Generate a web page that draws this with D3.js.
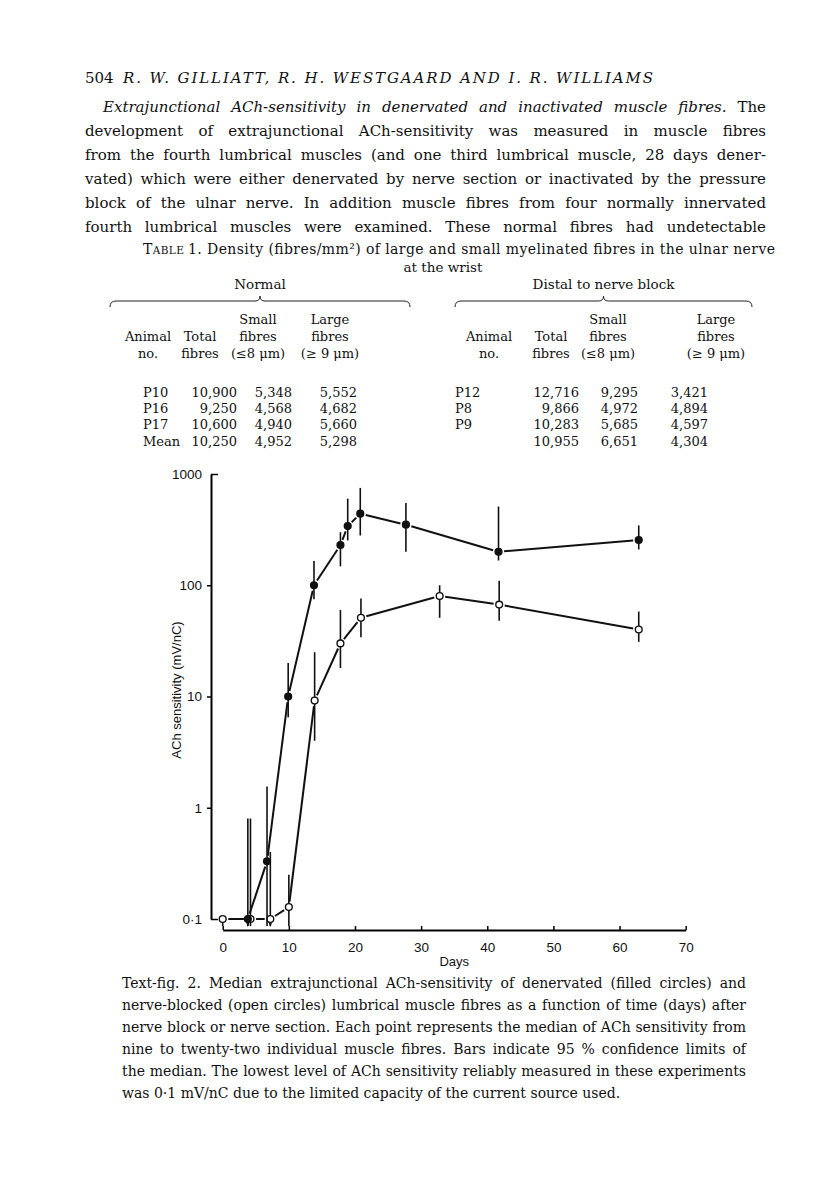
<!DOCTYPE html>
<html>
<head>
<meta charset="utf-8">
<script src="https://cdn.jsdelivr.net/npm/d3@7"></script>
<style>
  body { margin: 0; background: #fff; }
  svg { display: block; }
</style>
</head>
<body>
<div id="page"></div>
<script>
// ---- text of the page ----
var headerPage = "504";
var headerAuthors = "R. W. GILLIATT, R. H. WESTGAARD AND I. R. WILLIAMS";
var bodyLines = [
  "development of extrajunctional ACh-sensitivity was measured in muscle fibres",
  "from the fourth lumbrical muscles (and one third lumbrical muscle, 28 days dener-",
  "vated) which were either denervated by nerve section or inactivated by the pressure",
  "block of the ulnar nerve. In addition muscle fibres from four normally innervated",
  "fourth lumbrical muscles were examined. These normal fibres had undetectable"
];
var bodyFirstItalic = "Extrajunctional ACh-sensitivity in denervated and inactivated muscle fibres.";
var bodyFirstRest = "The";

var tableTitle = "1. Density (fibres/mm²) of large and small myelinated fibres in the ulnar nerve";
var tableTitle2 = "at the wrist";
var groupNames = ["Normal", "Distal to nerve block"];
var colHead1 = ["", "", "Small", "Large"];
var colHead2 = ["Animal", "Total", "fibres", "fibres"];
var colHead3 = ["no.", "fibres", "(≤8 μm)", "(≥ 9 μm)"];
var normalRows = [
  ["P10", "10,900", "5,348", "5,552"],
  ["P16", "9,250", "4,568", "4,682"],
  ["P17", "10,600", "4,940", "5,660"],
  ["Mean", "10,250", "4,952", "5,298"]
];
var blockRows = [
  ["P12", "12,716", "9,295", "3,421"],
  ["P8", "9,866", "4,972", "4,894"],
  ["P9", "10,283", "5,685", "4,597"],
  ["", "10,955", "6,651", "4,304"]
];

var captionLines = [
  "Text-fig. 2. Median extrajunctional ACh-sensitivity of denervated (filled circles) and",
  "nerve-blocked (open circles) lumbrical muscle fibres as a function of time (days) after",
  "nerve block or nerve section. Each point represents the median of ACh sensitivity from",
  "nine to twenty-two individual muscle fibres. Bars indicate 95 % confidence limits of",
  "the median. The lowest level of ACh sensitivity reliably measured in these experiments",
  "was 0·1 mV/nC due to the limited capacity of the current source used."
];

// ---- chart data ----
var xTicks = [0, 10, 20, 30, 40, 50, 60, 70];
var yTicks = [0.1, 1, 10, 100, 1000];

// denervated (filled circles)
var filledDays   = [3.8, 6.7, 9.9, 13.8, 17.8, 18.9, 20.8, 27.7, 41.7, 62.9];
var filledMedian = [0.1, 0.33, 10, 100, 230, 340, 440, 350, 200, 255];
var filledHigh   = [0.8, 1.55, 20, 165, 300, 600, 750, 550, 510, 345];
var filledLow    = [0.08, 0.08, 6.5, 75, 148, 253, 280, 200, 167, 210];
var filledArrow  = [true, false, false, false, false, false, false, false, false, false];

// nerve-blocked (open circles)
var openDays   = [0, 4.2, 7.2, 10, 13.9, 17.8, 20.9, 32.8, 41.8, 62.9];
var openMedian = [0.1, 0.1, 0.1, 0.128, 9.2, 30, 51, 80, 67, 40];
var openHigh   = [0.1, 0.8, 0.4, 0.25, 25, 60, 76, 100, 110, 58];
var openLow    = [0.08, 0.08, 0.08, 0.08, 4, 18, 34, 51, 48, 31];
var openArrow  = [false, false, true, false, false, false, false, false, false, false];

var W = 816, H = 1183;
var serif = "DejaVu Serif";
var sans = "Liberation Sans";

var svg = d3.select("#page").append("svg")
  .attr("width", W)
  .attr("height", H);

svg.append("rect").attr("width", W).attr("height", H).attr("fill", "#fff");

// justify a line of words between x0 and x1
function justify(g, words, x0, x1, y, size) {
  var nodes = words.map(function(d) {
    return g.append("text")
      .attr("y", y)
      .attr("font-family", serif)
      .attr("font-size", size)
      .attr("font-style", d.it ? "italic" : "normal")
      .text(d.w);
  });
  var widths = nodes.map(function(n) { return n.node().getComputedTextLength(); });
  var gap = words.length > 1 ? (x1 - x0 - d3.sum(widths)) / (words.length - 1) : 0;
  var x = x0;
  nodes.forEach(function(n, i) {
    n.attr("x", x);
    x += widths[i] + gap;
  });
}
function plain(t) {
  return t.split(" ").map(function(w) { return {w: w, it: false}; });
}

/* header */
var head = svg.append("g").attr("fill", "#111");
head.append("text")
  .attr("x", 85).attr("y", 83)
  .attr("font-family", serif).attr("font-size", 15)
  .text(headerPage);
head.append("text")
  .attr("x", 123).attr("y", 83)
  .attr("font-family", serif).attr("font-size", 15)
  .attr("font-style", "italic")
  .attr("textLength", 530).attr("lengthAdjust", "spacing")
  .text(headerAuthors);

/* body paragraph */
var body = svg.append("g").attr("fill", "#111");
var bodySize = 15;
var firstWords = bodyFirstItalic.split(" ").map(function(w) { return {w: w, it: true}; });
firstWords.push({w: bodyFirstRest, it: false});
justify(body, firstWords, 103, 766, 112, bodySize);
bodyLines.forEach(function(t, i) {
  justify(body, plain(t), 85, 766, 112 + 24 * (i + 1), bodySize);
});

/* table */
var tab = svg.append("g").attr("fill", "#111").attr("font-family", serif);
var tt = tab.append("text").attr("x", 143).attr("y", 254).attr("font-size", 14)
  .attr("textLength", 632).attr("lengthAdjust", "spacing");
tt.append("tspan").text("T");
tt.append("tspan").attr("font-size", 10.5).text("ABLE ");
tt.append("tspan").text(tableTitle);
tab.append("text").attr("x", 443).attr("y", 272).attr("font-size", 13.5)
  .attr("text-anchor", "middle").text(tableTitle2);

var groups = [
  {name: groupNames[0], x0: 110, x1: 410, rows: normalRows,
   cols: [148, 200, 258, 330], right: [null, 237, 292, 357], left: 143},
  {name: groupNames[1], x0: 455, x1: 752, rows: blockRows,
   cols: [489, 551, 608, 716], right: [null, 579, 638, 708], left: 455}
];

function bracePath(x0, x1, y) {
  var m = (x0 + x1) / 2;
  var p = d3.path();
  p.moveTo(x0, y + 6);
  p.quadraticCurveTo(x0, y, x0 + 6, y);
  p.lineTo(m - 5, y);
  p.quadraticCurveTo(m, y, m, y - 5);
  p.quadraticCurveTo(m, y, m + 5, y);
  p.lineTo(x1 - 6, y);
  p.quadraticCurveTo(x1, y, x1, y + 6);
  return p.toString();
}

groups.forEach(function(gr) {
  tab.append("text").attr("x", (gr.x0 + gr.x1) / 2).attr("y", 289)
    .attr("font-size", 13.5).attr("text-anchor", "middle").text(gr.name);
  tab.append("path").attr("d", bracePath(gr.x0, gr.x1, 301))
    .attr("fill", "none").attr("stroke", "#222").attr("stroke-width", 1);
  [colHead1, colHead2, colHead3].forEach(function(hrow, j) {
    hrow.forEach(function(h, k) {
      if (!h) return;
      tab.append("text").attr("x", gr.cols[k]).attr("y", 324 + j * 17)
        .attr("font-size", 13).attr("text-anchor", "middle").text(h);
    });
  });
  gr.rows.forEach(function(r, i) {
    var y = 397 + i * 16 + (i === 3 ? 1 : 0);
    r.forEach(function(v, k) {
      if (!v) return;
      var t = tab.append("text").attr("y", y).attr("font-size", 13).text(v);
      if (k === 0) t.attr("x", gr.left);
      else t.attr("x", gr.right[k]).attr("text-anchor", "end");
    });
  });
});

/* chart */
var x = d3.scaleLinear().domain([0, 70]).range([222.7, 685.7]);
var y = d3.scaleLog().domain([0.1, 1000]).range([919, 474]);
var yFloor = 926;

var chart = svg.append("g");

var yAxis = d3.axisLeft(y)
  .tickValues(yTicks)
  .tickFormat(function(d) { return d < 1 ? "0·1" : d3.format("d")(d); })
  .tickSizeInner(4).tickSizeOuter(0).tickPadding(5);

var yg = chart.append("g")
  .attr("transform", "translate(211,0)")
  .call(yAxis);
yg.select(".domain").attr("stroke-width", 2);
yg.selectAll(".tick line").attr("stroke-width", 1.5)
  .filter(function(d) { return d === 0.1 || d === 1000; })
  .attr("x2", 7);
yg.selectAll(".tick text")
  .attr("font-family", sans).attr("font-size", 13.5).attr("fill", "#111");

var xAxis = d3.axisBottom(x)
  .tickValues(xTicks)
  .tickSizeInner(-4).tickSizeOuter(0).tickPadding(12);
var xg = chart.append("g")
  .attr("transform", "translate(0,930)")
  .call(xAxis);
xg.select(".domain").attr("stroke-width", 2.2);
xg.selectAll(".tick line").attr("stroke-width", 1.5);
xg.selectAll(".tick text")
  .attr("font-family", sans).attr("font-size", 13.5).attr("fill", "#111");

chart.append("text")
  .attr("x", x(35)).attr("y", 966)
  .attr("text-anchor", "middle")
  .attr("font-family", sans).attr("font-size", 13).attr("fill", "#111")
  .text("Days");

chart.append("text")
  .attr("transform", "translate(181,690) rotate(-90)")
  .attr("text-anchor", "middle")
  .attr("font-family", sans).attr("font-size", 13).attr("fill", "#111")
  .text("ACh sensitivity (mV/nC)");

var r = 3.4;

function drawSeries(days, med, hi, lo, arrow, filled) {
  var pts = days.map(function(d, i) {
    return {
      x: x(d), y: y(med[i]),
      hi: y(hi[i]),
      lo: lo[i] < 0.1 ? yFloor : y(lo[i]),
      arrow: arrow[i]
    };
  });
  var g = chart.append("g");
  // error bars
  g.selectAll(".bar").data(pts).enter().append("line")
    .attr("x1", function(d) { return d.x; }).attr("x2", function(d) { return d.x; })
    .attr("y1", function(d) { return d.hi; }).attr("y2", function(d) { return d.lo; })
    .attr("stroke", "#111").attr("stroke-width", 1.6);
  // arrows below detection limit
  g.selectAll(".arrow").data(pts.filter(function(d) { return d.arrow; })).enter()
    .append("path")
    .attr("d", function(d) {
      return "M" + (d.x - 2.6) + "," + (yFloor - 6) + "L" + (d.x + 2.6) + "," + (yFloor - 6) +
        "L" + d.x + "," + (yFloor + 1) + "Z";
    })
    .attr("fill", "#111");
  // connecting lines with small gaps around markers
  var segs = d3.pairs(pts);
  g.selectAll(".seg").data(segs).enter().append("line")
    .each(function(s) {
      var a = s[0], b = s[1];
      var dx = b.x - a.x, dy = b.y - a.y, L = Math.sqrt(dx * dx + dy * dy);
      var cut = r + 2.2;
      if (L <= 2 * cut) { cut = L / 3; }
      d3.select(this)
        .attr("x1", a.x + dx * cut / L).attr("y1", a.y + dy * cut / L)
        .attr("x2", b.x - dx * cut / L).attr("y2", b.y - dy * cut / L);
    })
    .attr("stroke", "#111").attr("stroke-width", 2);
  // markers
  g.selectAll(".pt").data(pts).enter().append("circle")
    .attr("cx", function(d) { return d.x; })
    .attr("cy", function(d) { return d.y; })
    .attr("r", r)
    .attr("fill", filled ? "#111" : "#fff")
    .attr("stroke", "#111").attr("stroke-width", 1.4);
}

drawSeries(openDays, openMedian, openHigh, openLow, openArrow, false);
drawSeries(filledDays, filledMedian, filledHigh, filledLow, filledArrow, true);

/* figure caption */
var cap = svg.append("g").attr("fill", "#111");
captionLines.forEach(function(t, i) {
  var yy = 988 + i * 22;
  if (i < captionLines.length - 1) {
    justify(cap, plain(t), 122, 746, yy, 14);
  } else {
    cap.append("text").attr("x", 122).attr("y", yy)
      .attr("font-family", serif).attr("font-size", 14).text(t);
  }
});
</script>
</body>
</html>
